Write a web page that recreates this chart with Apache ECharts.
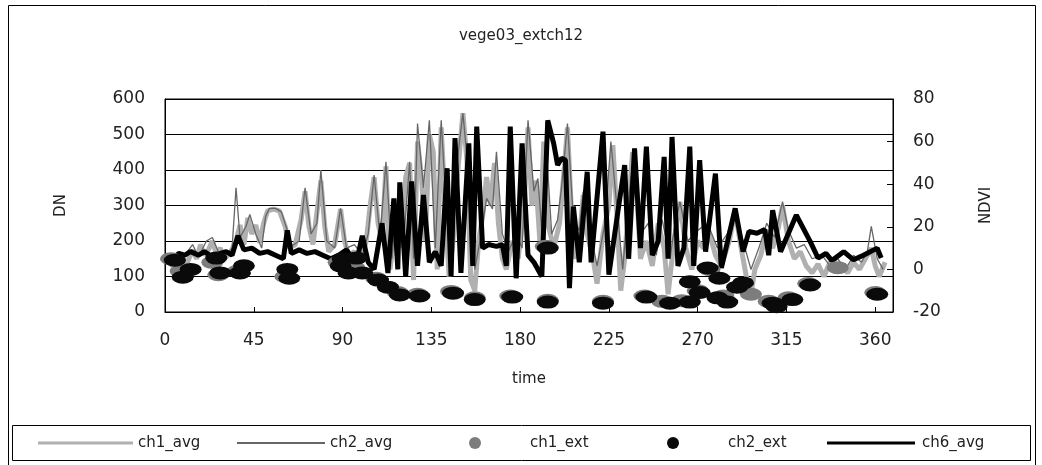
<!DOCTYPE html>
<html>
<head>
<meta charset="utf-8">
<script src="https://cdn.jsdelivr.net/npm/echarts@6/dist/echarts.min.js"></script>
<style>
  html, body { margin: 0; padding: 0; background: #fff; }
  #chart { width: 1042px; height: 465px; }
</style>
</head>
<body>
<div id="chart"></div>
<script>
// x axis ticks (time, day of year)
const timeTicks = [0, 45, 90, 135, 180, 225, 270, 315, 360];

// ch1_avg (thick stippled gray)
const ch1Days = [2, 5, 8, 11, 14, 16, 18, 20, 22, 24, 26, 28, 30, 33, 36, 38, 40, 42, 44, 46, 48, 50, 52, 55, 58, 61, 63, 66, 69, 71, 73, 75, 77, 79, 81, 83, 86, 89, 91, 93, 96, 99, 102, 104, 106, 108, 110, 112, 114, 116, 118, 120, 122, 124, 126, 128, 130, 132, 134, 136, 138, 140, 142, 144, 146, 148, 151, 153, 155, 157, 159, 161, 163, 165, 167, 169, 171, 173, 176, 179, 182, 184, 186, 188, 190, 192, 194, 197, 200, 202, 204, 206, 208, 210, 212, 214, 217, 219, 222, 225, 227, 229, 231, 233, 235, 237, 239, 241, 244, 247, 250, 253, 255, 258, 261, 264, 267, 270, 273, 276, 279, 282, 286, 289, 292, 295, 297, 299, 302, 305, 308, 311, 313, 316, 319, 322, 325, 328, 331, 334, 337, 340, 343, 346, 349, 352, 355, 358, 360, 362, 365];
const ch1Vals = [140, 125, 150, 135, 175, 150, 190, 160, 175, 200, 165, 180, 150, 165, 200, 245, 190, 265, 220, 245, 195, 250, 285, 290, 285, 240, 180, 190, 260, 340, 240, 190, 280, 370, 240, 170, 190, 290, 200, 160, 170, 140, 200, 300, 380, 250, 200, 410, 120, 200, 300, 180, 380, 420, 90, 480, 380, 200, 500, 450, 120, 520, 300, 100, 200, 370, 560, 430, 90, 60, 200, 270, 380, 300, 420, 250, 150, 120, 200, 150, 300, 520, 300, 370, 200, 480, 250, 180, 250, 380, 520, 280, 150, 200, 330, 220, 150, 80, 220, 300, 470, 280, 60, 150, 300, 450, 350, 150, 200, 130, 250, 180, 50, 200, 310, 180, 120, 200, 180, 220, 160, 130, 200, 285, 180, 90, 50, 120, 160, 230, 180, 240, 300, 200, 150, 170, 130, 110, 135, 100, 140, 120, 130, 110, 140, 120, 150, 180, 130, 100, 140];

// ch2_avg (thin gray line)
const ch2Days = [2, 6, 10, 14, 17, 21, 24, 27, 31, 34, 36, 38, 41, 43, 46, 49, 51, 53, 56, 59, 62, 64, 68, 71, 74, 77, 79, 82, 86, 89, 92, 96, 100, 103, 106, 109, 112, 115, 118, 121, 124, 126, 128, 131, 134, 137, 140, 143, 146, 148, 151, 154, 157, 160, 163, 166, 168, 171, 174, 178, 181, 184, 187, 189, 191, 193, 196, 199, 201, 204, 207, 210, 212, 215, 219, 223, 226, 229, 232, 235, 238, 241, 245, 249, 252, 256, 258, 261, 265, 270, 275, 280, 285, 289, 293, 297, 301, 305, 309, 313, 316, 320, 324, 328, 333, 337, 341, 345, 349, 353, 356, 358, 361, 364];
const ch2Vals = [150, 135, 160, 190, 155, 200, 210, 170, 160, 180, 350, 210, 240, 275, 220, 180, 270, 292, 292, 282, 230, 185, 200, 350, 220, 250, 400, 200, 180, 292, 180, 190, 160, 220, 386, 210, 423, 150, 330, 200, 423, 150, 531, 350, 540, 180, 540, 250, 180, 420, 560, 380, 120, 210, 320, 290, 451, 220, 170, 220, 180, 540, 340, 376, 230, 489, 220, 260, 350, 531, 260, 230, 339, 240, 130, 250, 480, 300, 120, 320, 461, 220, 250, 160, 260, 150, 230, 311, 200, 230, 250, 180, 220, 287, 200, 120, 180, 250, 210, 311, 230, 180, 190, 150, 160, 130, 150, 120, 160, 140, 170, 241, 150, 120];

// ch6_avg (thick black)
const ch6Days = [1, 4, 7, 10, 13, 17, 20, 24, 28, 31, 34, 37, 40, 44, 48, 52, 56, 60, 62, 64, 68, 72, 76, 80, 84, 88, 92, 95, 98, 100, 103, 106, 110, 113, 116, 118, 119, 122, 125, 128, 131, 134, 137, 140, 143, 145, 147, 150, 154, 156, 158, 161, 164, 168, 171, 173, 175, 178, 181, 184, 187, 191, 194, 197, 199, 201, 203, 205, 207, 210, 214, 216, 222, 225, 230, 233, 235, 238, 241, 244, 247, 250, 253, 255, 257, 260, 263, 266, 268, 271, 274, 279, 282, 289, 293, 296, 300, 304, 306, 308, 312, 320, 327, 331, 335, 338, 344, 349, 354, 361, 363];
const ch6Vals = [145, 150, 165, 160, 170, 160, 170, 155, 165, 170, 160, 215, 175, 180, 165, 170, 160, 150, 230, 165, 175, 165, 170, 160, 150, 160, 175, 150, 165, 215, 140, 120, 250, 110, 320, 120, 365, 100, 368, 130, 330, 140, 170, 130, 405, 100, 490, 110, 475, 130, 522, 180, 190, 185, 190, 130, 522, 95, 475, 160, 140, 100, 540, 475, 414, 433, 428, 67, 297, 140, 395, 140, 508, 105, 300, 414, 150, 461, 180, 466, 160, 200, 437, 150, 493, 130, 180, 466, 130, 428, 170, 390, 124, 292, 170, 227, 222, 232, 160, 287, 170, 273, 199, 152, 165, 145, 170, 147, 160, 180, 152];

// ch1_ext (gray ellipses)
const ext1Days = [3, 8, 24, 27, 37, 61, 88, 96, 107, 118, 128, 145, 157, 175, 193, 194, 222, 243, 252, 262, 270, 276, 283, 297, 306, 316, 326, 341, 360];
const ext1Vals = [150, 115, 140, 105, 115, 100, 140, 125, 95, 55, 50, 58, 40, 45, 185, 33, 30, 45, 30, 32, 60, 120, 45, 50, 30, 40, 80, 125, 55];

// ch2_ext (black ellipses)
const ext2Days = [5, 9, 13, 26, 28, 38, 40, 62, 63, 89, 90, 93, 97, 100, 108, 113, 119, 129, 146, 157, 176, 194, 194, 222, 244, 256, 266, 266, 271, 275, 280, 281, 285, 290, 293, 308, 310, 318, 327, 361];
const ext2Vals = [146, 98, 120, 152, 110, 110, 130, 120, 95, 130, 150, 110, 152, 110, 90, 70, 48, 45, 53, 35, 42, 180, 28, 25, 42, 25, 28, 85, 55, 124, 40, 95, 28, 70, 82, 25, 15, 35, 76, 50];

const zip = (xs, ys) => xs.map((x, i) => [x, ys[i]]);

const dom = document.getElementById("chart");
const chart = echarts.init(dom, null, { renderer: "canvas" });

const font = "DejaVu Sans";
const textCol = "#222";

// one legend block per item so the spacing can follow the original box
function legendItem(name, left, iconW, iconH, icon, textPad) {
  return {
    data: [{ name: name, icon: icon }],
    left: left,
    top: 434,
    itemWidth: iconW,
    itemHeight: iconH,
    padding: 0,
    selectedMode: false,
    textStyle: {
      fontFamily: font,
      fontSize: 15,
      lineHeight: 18,
      color: textCol,
      padding: [0, 0, 0, textPad],
    },
  };
}

const option = {
  backgroundColor: "#fff",
  animation: false,
  textStyle: { fontFamily: font },
  title: {
    text: "vege03_extch12",
    left: "center",
    top: 24,
    textStyle: { fontFamily: font, fontSize: 15, fontWeight: "normal", color: textCol },
  },
  legend: [
    legendItem("ch1_avg", 38, 95, 3, "rect", 0),
    legendItem("ch2_avg", 237, 88, 2, "rect", 0),
    legendItem("ch1_ext", 469, 12, 12, "circle", 44),
    legendItem("ch2_ext", 667, 12, 12, "circle", 44),
    legendItem("ch6_avg", 827, 88, 3, "rect", 2),
  ],
  grid: {
    left: 165,
    right: 149,
    top: 99,
    bottom: 153,
    show: true,
    borderColor: "#000",
    borderWidth: 1,
  },
  xAxis: {
    type: "value",
    min: 0,
    max: 369,
    interval: 45,
    name: "time",
    nameLocation: "middle",
    nameGap: 60,
    nameTextStyle: { fontFamily: font, fontSize: 15, color: textCol },
    axisLine: { show: true, onZero: false, lineStyle: { color: "#000", width: 1 } },
    axisTick: { show: true, inside: true, length: 5, lineStyle: { color: "#000" } },
    axisLabel: {
      margin: 20,
      fontSize: 17,
      color: textCol,
      fontFamily: font,
      showMaxLabel: false,
      formatter: (v) => (timeTicks.indexOf(v) >= 0 ? String(v) : ""),
    },
    splitLine: { show: false },
  },
  yAxis: [
    {
      type: "value",
      min: 0,
      max: 600,
      interval: 100,
      name: "DN",
      nameLocation: "middle",
      nameRotate: 90,
      nameGap: 96,
      nameTextStyle: { fontFamily: font, fontSize: 15, color: textCol },
      axisLine: { show: true, lineStyle: { color: "#000", width: 1 } },
      axisTick: { show: false },
      axisLabel: { margin: 20, fontSize: 17, color: textCol, fontFamily: font },
      splitLine: { show: true, lineStyle: { color: "#000", width: 1 } },
    },
    {
      type: "value",
      min: -20,
      max: 80,
      interval: 20,
      name: "NDVI",
      nameLocation: "middle",
      nameRotate: 90,
      nameGap: 86,
      nameTextStyle: { fontFamily: font, fontSize: 15, color: textCol },
      axisLine: { show: true, lineStyle: { color: "#000", width: 1 } },
      axisTick: { show: true, inside: true, length: 6, lineStyle: { color: "#000" } },
      axisLabel: { margin: 20, fontSize: 17, color: textCol, fontFamily: font },
      splitLine: { show: false },
    },
  ],
  graphic: [
    {
      type: "rect",
      shape: { x: 8.5, y: 5.5, width: 1027, height: 470 },
      style: { fill: "none", stroke: "#000", lineWidth: 1 },
      silent: true,
      z: -10,
    },
    {
      type: "rect",
      shape: { x: 12.5, y: 425.5, width: 1018, height: 35 },
      style: { fill: "none", stroke: "#000", lineWidth: 1 },
      silent: true,
      z: -10,
    },
  ],
  series: [
    {
      name: "ch1_avg",
      type: "line",
      data: zip(ch1Days, ch1Vals),
      symbol: "none",
      itemStyle: { color: "#b0b0b0" },
      lineStyle: { color: "#b0b0b0", width: 5 },
      z: 2,
    },
    {
      name: "ch2_avg",
      type: "line",
      data: zip(ch2Days, ch2Vals),
      symbol: "none",
      itemStyle: { color: "#666" },
      lineStyle: { color: "#666", width: 1.3 },
      z: 3,
    },
    {
      name: "ch6_avg",
      type: "line",
      data: zip(ch6Days, ch6Vals),
      symbol: "none",
      itemStyle: { color: "#000" },
      lineStyle: { color: "#000", width: 5 },
      z: 4,
    },
    {
      name: "ch1_ext",
      type: "scatter",
      data: zip(ext1Days, ext1Vals),
      symbol: "circle",
      symbolSize: [22, 13],
      itemStyle: { color: "#7d7d7d", opacity: 1 },
      z: 5,
    },
    {
      name: "ch2_ext",
      type: "scatter",
      data: zip(ext2Days, ext2Vals),
      symbol: "circle",
      symbolSize: [22, 13],
      itemStyle: { color: "#0a0a0a", opacity: 1 },
      z: 6,
    },
  ],
};

option && chart.setOption(option);
</script>
</body>
</html>
